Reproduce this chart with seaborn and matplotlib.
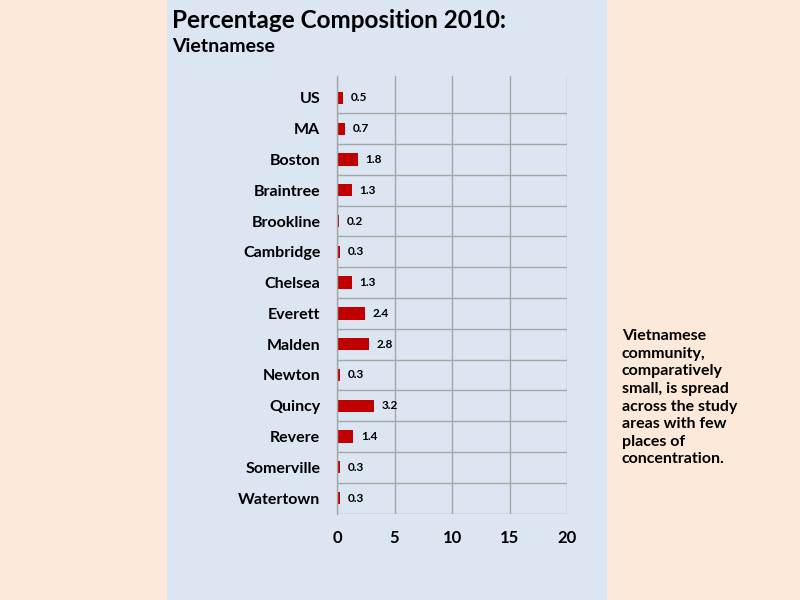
import matplotlib
matplotlib.use("Agg")
import matplotlib.pyplot as plt
import seaborn as sns
import pandas as pd
import numpy as np
from matplotlib.patches import Rectangle

places = ["US", "MA", "Boston", "Braintree", "Brookline", "Cambridge", "Chelsea",
          "Everett", "Malden", "Newton", "Quincy", "Revere", "Somerville", "Watertown"]
values = [0.5, 0.7, 1.8, 1.3, 0.2, 0.3, 1.3, 2.4, 2.8, 0.3, 3.2, 1.4, 0.3, 0.3]
xticks = [0, 5, 10, 15, 20]

title = "Percentage Composition 2010:"
subtitle = "Vietnamese"
note = "Vietnamese\ncommunity,\ncomparatively\nsmall, is spread\nacross the study\nareas with few\nplaces of\nconcentration."

sns.set_style("white")
plt.rcParams['font.family'] = ['Lato', 'DejaVu Sans']
plt.rcParams['text.color'] = 'black'
plt.rcParams['xtick.color'] = 'black'
plt.rcParams['ytick.color'] = 'black'

df = pd.DataFrame({"place": places, "value": values})

fig = plt.figure(figsize=(8, 6), dpi=100)
fig.patch.set_facecolor("#fde9d9")
fig.patches.append(Rectangle((167/800, 0), 440/800, 1, transform=fig.transFigure,
                             facecolor="#dce6f2", edgecolor="none", zorder=-10))

ax_top, ax_bot = 76, 513.5
ax = fig.add_axes([337/800, 1 - ax_bot/600, 230/800, (ax_bot - ax_top)/600])
ax.set_zorder(5)
ax.set_facecolor("none")
sns.barplot(data=df, x="value", y="place", orient="h", color="#c00000",
            width=0.4, ax=ax, saturation=1, linewidth=0, edgecolor="none")
n = len(places)
ax.set_xlim(0, 20)
slot = (ax_bot - 82.5) / n
ax.set_ylim(n - 0.5, -0.5 - (82.5 - ax_top) / slot)
ax.set_xticks(xticks)
ax.set_xticklabels([str(t) for t in xticks], fontsize=12, fontweight="bold")
ax.set_yticks(range(n))
ax.set_yticklabels(places, fontsize=11.5, fontweight="bold")
ax.set_yticks(np.arange(-0.5, n, 1), minor=True)
ax.tick_params(axis="y", which="major", length=0, pad=12, labelcolor="black")
ax.tick_params(axis="y", which="minor", length=3.8, color="#a6a6a6", direction="out")
ax.tick_params(axis="x", which="major", length=0, pad=12, labelcolor="black")
ax.grid(False)
ax.xaxis.grid(True, color="#a6a6a6", linewidth=1)
ax.yaxis.grid(True, which="minor", color="#a6a6a6", linewidth=1)
ax.set_axisbelow(True)
ax.yaxis.get_minor_ticks()[0].gridline.set_visible(False)
for s in ["top", "right", "bottom"]:
    ax.spines[s].set_visible(False)
ax.spines["left"].set_color("#a6a6a6")
ax.spines["left"].set_linewidth(1)
ax.set_xlabel("")
ax.set_ylabel("")

for i, v in enumerate(values):
    ax.annotate(f"{v}", xy=(v, i), xytext=(5.5, 0), textcoords="offset points",
                va="center", ha="left", fontsize=8.5, fontweight="bold", color="black")

fig.text(172/800, 1 - 21/600, title, fontsize=17.5, fontweight="bold", va="center", ha="left")
fig.text(172/800, 1 - 47/600, subtitle, fontsize=14, fontweight="bold", va="center", ha="left")
fig.text(622/800, 1 - 329/600, note, fontsize=11.5, fontweight="bold", va="top", ha="left",
         linespacing=1.33)

fig.savefig("out.png", dpi=100, facecolor=fig.get_facecolor())
